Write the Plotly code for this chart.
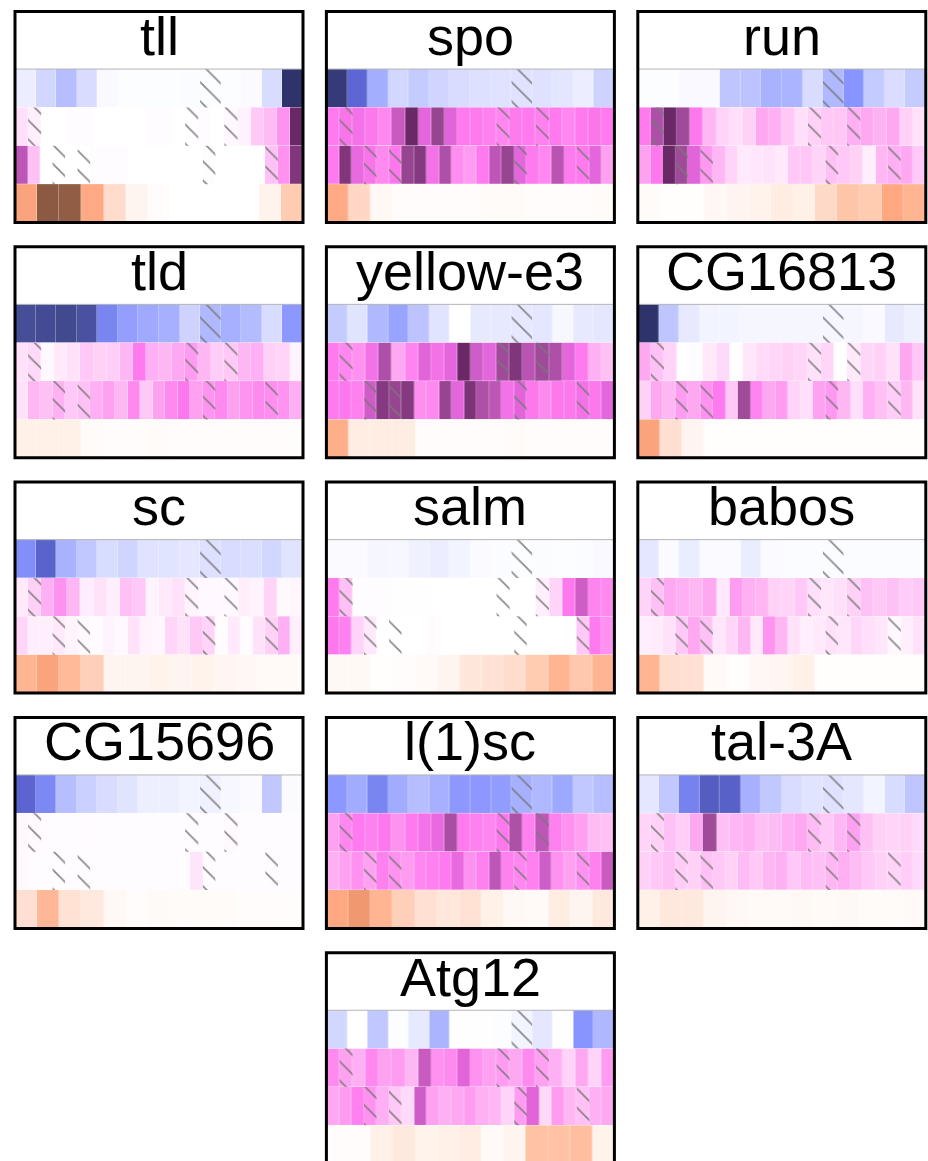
import numpy as np
import plotly.graph_objects as go

# ---------------------------------------------------------------- data
genes = ["tll", "spo", "run", "tld", "yellow-e3", "CG16813", "sc", "salm",
         "babos", "CG15696", "l(1)sc", "tal-3A", "Atg12"]

# top strip, 14 samples (blue scale)
blue_row = {
    "tll":       [0.15, 0.30, 0.40, 0.28, 0.05, 0.02, 0.02, 0.02, 0.03, 0.02, 0.02, 0.04, 0.28, 1.00],
    "spo":       [0.97, 0.75, 0.47, 0.30, 0.35, 0.31, 0.28, 0.25, 0.23, 0.23, 0.24, 0.21, 0.15, 0.32],
    "run":       [0.02, 0.02, 0.05, 0.05, 0.37, 0.38, 0.45, 0.44, 0.28, 0.42, 0.60, 0.35, 0.27, 0.35],
    "tld":       [0.90, 0.91, 0.92, 0.88, 0.65, 0.55, 0.49, 0.46, 0.32, 0.42, 0.46, 0.41, 0.28, 0.58],
    "yellow-e3": [0.35, 0.22, 0.42, 0.52, 0.38, 0.22, 0.00, 0.18, 0.18, 0.19, 0.20, 0.07, 0.18, 0.20],
    "CG16813":   [1.00, 0.37, 0.18, 0.10, 0.10, 0.08, 0.08, 0.08, 0.08, 0.08, 0.08, 0.05, 0.18, 0.13],
    "sc":        [0.62, 0.77, 0.45, 0.36, 0.28, 0.31, 0.23, 0.22, 0.20, 0.25, 0.28, 0.26, 0.30, 0.22],
    "salm":      [0.04, 0.04, 0.08, 0.07, 0.12, 0.15, 0.10, 0.04, 0.03, 0.02, 0.03, 0.02, 0.03, 0.05],
    "babos":     [0.20, 0.04, 0.16, 0.04, 0.04, 0.16, 0.04, 0.03, 0.03, 0.03, 0.03, 0.03, 0.03, 0.03],
    "CG15696":   [0.76, 0.64, 0.40, 0.33, 0.28, 0.22, 0.14, 0.14, 0.10, 0.12, 0.06, 0.04, 0.36, 0.04],
    "l(1)sc":    [0.58, 0.48, 0.65, 0.48, 0.40, 0.46, 0.58, 0.58, 0.56, 0.46, 0.42, 0.50, 0.36, 0.40],
    "tal-3A":    [0.20, 0.36, 0.66, 0.80, 0.78, 0.46, 0.36, 0.28, 0.22, 0.24, 0.20, 0.10, 0.28, 0.37],
    "Atg12":     [0.30, 0.00, 0.36, 0.02, 0.18, 0.44, 0.01, 0.01, 0.02, 0.10, 0.20, 0.01, 0.60, 0.43],
}

# second strip, 22 samples (magenta scale)
magenta_row_a = {
    "tll":       [0.22, 0.12, 0.00, 0.00, 0.02, 0.02, 0.00, 0.00, 0.00, 0.00, 0.02, 0.02, 0.00, 0.00, 0.02, 0.00, 0.05, 0.10, 0.35, 0.40, 0.55, 1.00],
    "spo":       [0.62, 0.65, 0.66, 0.63, 0.58, 0.80, 1.00, 0.72, 0.90, 0.73, 0.62, 0.62, 0.60, 0.58, 0.62, 0.62, 0.60, 0.62, 0.58, 0.62, 0.64, 0.62],
    "run":       [0.62, 0.85, 1.00, 0.88, 0.63, 0.42, 0.28, 0.22, 0.30, 0.48, 0.45, 0.35, 0.22, 0.30, 0.35, 0.36, 0.45, 0.48, 0.44, 0.48, 0.30, 0.20],
    "tld":       [0.20, 0.25, 0.05, 0.15, 0.20, 0.35, 0.30, 0.32, 0.42, 0.62, 0.45, 0.42, 0.48, 0.52, 0.42, 0.32, 0.35, 0.42, 0.45, 0.30, 0.28, 0.08],
    "yellow-e3": [0.62, 0.58, 0.55, 0.66, 0.85, 0.48, 0.59, 0.73, 0.66, 0.72, 1.00, 0.78, 0.72, 0.88, 0.95, 0.83, 0.88, 0.85, 0.72, 0.62, 0.45, 0.38],
    "CG16813":   [0.48, 0.38, 0.28, 0.00, 0.02, 0.15, 0.25, 0.00, 0.17, 0.24, 0.27, 0.30, 0.27, 0.20, 0.27, 0.00, 0.15, 0.27, 0.30, 0.20, 0.48, 0.36],
    "sc":        [0.15, 0.30, 0.45, 0.55, 0.42, 0.13, 0.20, 0.12, 0.38, 0.35, 0.08, 0.15, 0.20, 0.08, 0.05, 0.05, 0.05, 0.12, 0.08, 0.28, 0.04, 0.07],
    "salm":      [0.62, 0.38, 0.02, 0.02, 0.02, 0.01, 0.01, 0.01, 0.00, 0.00, 0.00, 0.00, 0.00, 0.00, 0.00, 0.00, 0.12, 0.28, 0.63, 0.78, 0.59, 0.57],
    "babos":     [0.28, 0.38, 0.48, 0.45, 0.42, 0.48, 0.16, 0.52, 0.45, 0.42, 0.30, 0.28, 0.35, 0.22, 0.17, 0.22, 0.30, 0.38, 0.35, 0.38, 0.32, 0.35],
    "CG15696":   [0.06, 0.04, 0.03, 0.02, 0.02, 0.03, 0.02, 0.02, 0.02, 0.02, 0.02, 0.02, 0.02, 0.03, 0.02, 0.02, 0.04, 0.03, 0.02, 0.02, 0.03, 0.02],
    "l(1)sc":    [0.50, 0.58, 0.62, 0.60, 0.63, 0.55, 0.62, 0.66, 0.70, 0.86, 0.62, 0.60, 0.58, 0.63, 0.85, 0.60, 0.82, 0.60, 0.55, 0.50, 0.40, 0.38],
    "tal-3A":    [0.28, 0.30, 0.38, 0.32, 0.48, 0.88, 0.38, 0.42, 0.45, 0.38, 0.40, 0.45, 0.48, 0.40, 0.35, 0.42, 0.50, 0.38, 0.30, 0.28, 0.30, 0.25],
    "Atg12":     [0.57, 0.50, 0.45, 0.58, 0.50, 0.52, 0.42, 0.80, 0.55, 0.57, 0.73, 0.55, 0.50, 0.52, 0.48, 0.57, 0.50, 0.45, 0.28, 0.48, 0.28, 0.52],
}

# third strip, 23 samples (magenta scale)
magenta_row_b = {
    "tll":       [0.82, 0.38, 0.00, 0.00, 0.00, 0.00, 0.02, 0.03, 0.02, 0.00, 0.00, 0.00, 0.00, 0.00, 0.00, 0.02, 0.00, 0.00, 0.00, 0.00, 0.38, 0.55, 0.95],
    "spo":       [0.62, 0.95, 0.70, 0.65, 0.57, 0.63, 0.90, 0.94, 0.66, 0.85, 0.56, 0.52, 0.62, 0.82, 0.90, 0.72, 0.62, 0.58, 0.83, 0.62, 0.62, 0.72, 0.50],
    "run":       [0.50, 0.63, 1.00, 0.88, 0.73, 0.53, 0.42, 0.28, 0.15, 0.17, 0.19, 0.15, 0.35, 0.36, 0.28, 0.38, 0.35, 0.30, 0.12, 0.42, 0.45, 0.48, 0.35],
    "tld":       [0.20, 0.42, 0.38, 0.44, 0.35, 0.38, 0.45, 0.50, 0.42, 0.57, 0.35, 0.50, 0.57, 0.63, 0.50, 0.54, 0.57, 0.50, 0.54, 0.57, 0.56, 0.54, 0.45],
    "yellow-e3": [0.62, 0.63, 0.60, 0.78, 0.94, 0.90, 0.94, 0.56, 0.57, 0.90, 0.72, 0.96, 0.85, 0.82, 0.66, 0.73, 0.63, 0.57, 0.63, 0.63, 0.66, 0.63, 0.72],
    "CG16813":   [0.30, 0.48, 0.42, 0.52, 0.48, 0.55, 0.62, 0.35, 0.88, 0.59, 0.48, 0.52, 0.28, 0.22, 0.50, 0.53, 0.42, 0.22, 0.45, 0.38, 0.32, 0.42, 0.20],
    "sc":        [0.27, 0.12, 0.12, 0.15, 0.08, 0.05, 0.03, 0.08, 0.05, 0.20, 0.08, 0.06, 0.27, 0.20, 0.35, 0.28, 0.02, 0.15, 0.03, 0.20, 0.30, 0.45, 0.12],
    "salm":      [0.63, 0.60, 0.28, 0.15, 0.00, 0.00, 0.00, 0.00, 0.03, 0.00, 0.00, 0.00, 0.00, 0.00, 0.00, 0.00, 0.00, 0.00, 0.00, 0.01, 0.35, 0.62, 0.55],
    "babos":     [0.12, 0.14, 0.20, 0.35, 0.48, 0.38, 0.17, 0.27, 0.42, 0.15, 0.54, 0.42, 0.20, 0.12, 0.15, 0.20, 0.17, 0.27, 0.22, 0.17, 0.05, 0.12, 0.20],
    "CG15696":   [0.05, 0.03, 0.02, 0.02, 0.02, 0.02, 0.02, 0.02, 0.02, 0.02, 0.02, 0.02, 0.02, 0.02, 0.18, 0.03, 0.02, 0.02, 0.02, 0.02, 0.02, 0.02, 0.02],
    "l(1)sc":    [0.45, 0.50, 0.55, 0.50, 0.60, 0.55, 0.52, 0.58, 0.60, 0.62, 0.70, 0.55, 0.60, 0.82, 0.60, 0.58, 0.60, 0.78, 0.55, 0.50, 0.55, 0.60, 0.80],
    "tal-3A":    [0.30, 0.35, 0.38, 0.32, 0.30, 0.38, 0.35, 0.30, 0.40, 0.35, 0.42, 0.45, 0.35, 0.40, 0.38, 0.42, 0.45, 0.40, 0.35, 0.30, 0.28, 0.32, 0.25],
    "Atg12":     [0.48, 0.52, 0.60, 0.55, 0.45, 0.35, 0.25, 0.78, 0.50, 0.45, 0.48, 0.52, 0.45, 0.42, 0.28, 0.52, 0.73, 0.25, 0.52, 0.42, 0.38, 0.45, 0.48],
}

# bottom strip, 13 samples (orange scale)
orange_row = {
    "tll":       [0.60, 1.00, 0.98, 0.57, 0.30, 0.08, 0.02, 0.00, 0.00, 0.00, 0.00, 0.10, 0.40],
    "spo":       [0.57, 0.33, 0.06, 0.02, 0.02, 0.02, 0.02, 0.03, 0.03, 0.02, 0.02, 0.02, 0.03],
    "run":       [0.03, 0.01, 0.01, 0.06, 0.08, 0.10, 0.15, 0.12, 0.32, 0.43, 0.40, 0.58, 0.52],
    "tld":       [0.12, 0.12, 0.12, 0.03, 0.02, 0.02, 0.03, 0.02, 0.02, 0.02, 0.02, 0.02, 0.02],
    "yellow-e3": [0.55, 0.15, 0.15, 0.15, 0.02, 0.02, 0.02, 0.02, 0.03, 0.02, 0.02, 0.02, 0.02],
    "CG16813":   [0.60, 0.27, 0.08, 0.01, 0.01, 0.01, 0.01, 0.01, 0.01, 0.01, 0.01, 0.01, 0.01],
    "sc":        [0.52, 0.60, 0.49, 0.37, 0.08, 0.08, 0.10, 0.08, 0.10, 0.07, 0.06, 0.04, 0.04],
    "salm":      [0.05, 0.05, 0.01, 0.02, 0.04, 0.08, 0.20, 0.25, 0.30, 0.40, 0.52, 0.42, 0.52],
    "babos":     [0.52, 0.28, 0.26, 0.04, 0.01, 0.06, 0.07, 0.12, 0.01, 0.01, 0.01, 0.01, 0.01],
    "CG15696":   [0.27, 0.50, 0.25, 0.18, 0.06, 0.02, 0.04, 0.03, 0.03, 0.03, 0.02, 0.02, 0.02],
    "l(1)sc":    [0.58, 0.65, 0.52, 0.37, 0.26, 0.20, 0.25, 0.12, 0.06, 0.04, 0.15, 0.08, 0.18],
    "tal-3A":    [0.12, 0.20, 0.18, 0.08, 0.06, 0.04, 0.04, 0.05, 0.04, 0.05, 0.03, 0.03, 0.04],
    "Atg12":     [0.02, 0.02, 0.12, 0.18, 0.10, 0.12, 0.15, 0.04, 0.08, 0.45, 0.45, 0.47, 0.10],
}

# sample positions marked with a hatch in each strip
hatch_blue = [9]
hatch_magenta_a = [1, 13, 16]
hatch_magenta_b = [3, 5, 15, 20]
hatch_orange = []

# ---------------------------------------------------------------- styles
BLUE = [[0.0, "#ffffff"], [0.15, "#eceeff"], [0.28, "#d8dcff"], [0.45, "#a8b2ff"],
        [0.60, "#8894ff"], [0.75, "#5c66d4"], [0.90, "#464e98"], [1.0, "#2e336c"]]
MAGENTA = [[0.0, "#ffffff"], [0.20, "#ffe2fa"], [0.35, "#ffc8f6"], [0.48, "#ffa8f2"],
           [0.62, "#ff7aee"], [0.72, "#e466dc"], [0.80, "#c85ac0"], [0.88, "#a04a9a"],
           [1.0, "#6a2866"]]
ORANGE = [[0.0, "#ffffff"], [0.12, "#fff0e8"], [0.30, "#ffdccc"], [0.45, "#ffc2a4"],
          [0.58, "#ffa882"], [0.65, "#f09870"], [0.80, "#c07452"], [1.0, "#8c5a42"]]

FIG_W, FIG_H = 928, 1161
PANEL_W, PANEL_H = 288, 211
COL_LEFT = [15.0, 326.4, 637.8]
ROW_TOP = [11.5, 246.8, 482.1, 717.4, 952.7]
N_STRIPS = 4
TITLE_UNITS = 1.5
Y_TOP = N_STRIPS + TITLE_UNITS

grid_pos = [(i // 3, i % 3) for i in range(12)] + [(4, 1)]

fig = go.Figure()
layout_axes = {}
shapes = []
annotations = []

for k, gene in enumerate(genes):
    r, c = grid_pos[k]
    sfx = "" if k == 0 else str(k + 1)
    xa, ya = "x" + sfx, "y" + sfx
    left, top = COL_LEFT[c], ROW_TOP[r]
    bottom = top + PANEL_H
    unit = PANEL_H / Y_TOP
    vis_bottom = min(bottom, FIG_H)
    y_lo = (bottom - vis_bottom) / unit
    dom_h = vis_bottom - top

    layout_axes["xaxis" + sfx] = dict(
        domain=[left / FIG_W, (left + PANEL_W) / FIG_W], range=[0, 1],
        visible=False, anchor=ya, fixedrange=True)
    layout_axes["yaxis" + sfx] = dict(
        domain=[1 - vis_bottom / FIG_H, 1 - top / FIG_H], range=[y_lo, Y_TOP],
        visible=False, anchor=xa, fixedrange=True)

    strips = [
        (orange_row[gene], ORANGE, hatch_orange),
        (magenta_row_b[gene], MAGENTA, hatch_magenta_b),
        (magenta_row_a[gene], MAGENTA, hatch_magenta_a),
        (blue_row[gene], BLUE, hatch_blue),
    ]
    for i, (vals, cscale, hatch) in enumerate(strips):
        n = len(vals)
        fig.add_trace(go.Heatmap(
            z=[vals], x=np.linspace(0, 1, n + 1), y=[i, i + 1],
            colorscale=cscale, zmin=0, zmax=1, showscale=False,
            xgap=0.3, xaxis=xa, yaxis=ya, hoverinfo="skip"))
        if hatch:
            centers = (np.array(hatch) + 0.5) / n
            fig.add_trace(go.Bar(
                x=centers, y=[1] * len(hatch), base=[i] * len(hatch),
                width=[1 / n] * len(hatch), xaxis=xa, yaxis=ya,
                marker=dict(color="rgba(0,0,0,0)", line=dict(width=0),
                            pattern=dict(shape="\\", size=13.5, solidity=0.13,
                                         fgcolor="#777777", fgopacity=0.85,
                                         fillmode="overlay")),
                hoverinfo="skip", showlegend=False))

    # separator between title and strips
    shapes.append(dict(type="line", xref=xa, yref=ya, x0=0, x1=1,
                       y0=N_STRIPS, y1=N_STRIPS,
                       line=dict(color="#b4b4b4", width=1)))
    # panel frame
    shapes.append(dict(type="rect", xref=xa + " domain", yref=ya + " domain",
                       x0=0, x1=1, y0=-(bottom - vis_bottom) / dom_h, y1=1,
                       line=dict(color="black", width=3),
                       fillcolor="rgba(0,0,0,0)"))
    annotations.append(dict(
        text=gene, xref=xa + " domain", yref=ya, x=0.5, y=N_STRIPS,
        xanchor="center", yanchor="bottom", yshift=1.5, showarrow=False,
        font=dict(family="Liberation Sans, Arial, sans-serif", size=54,
                  color="black")))

fig.update_layout(
    width=FIG_W, height=FIG_H,
    margin=dict(l=0, r=0, t=0, b=0),
    paper_bgcolor="white", plot_bgcolor="white",
    barmode="overlay", showlegend=False,
    shapes=shapes, annotations=annotations,
    **layout_axes,
)

fig.write_html("out.html")
